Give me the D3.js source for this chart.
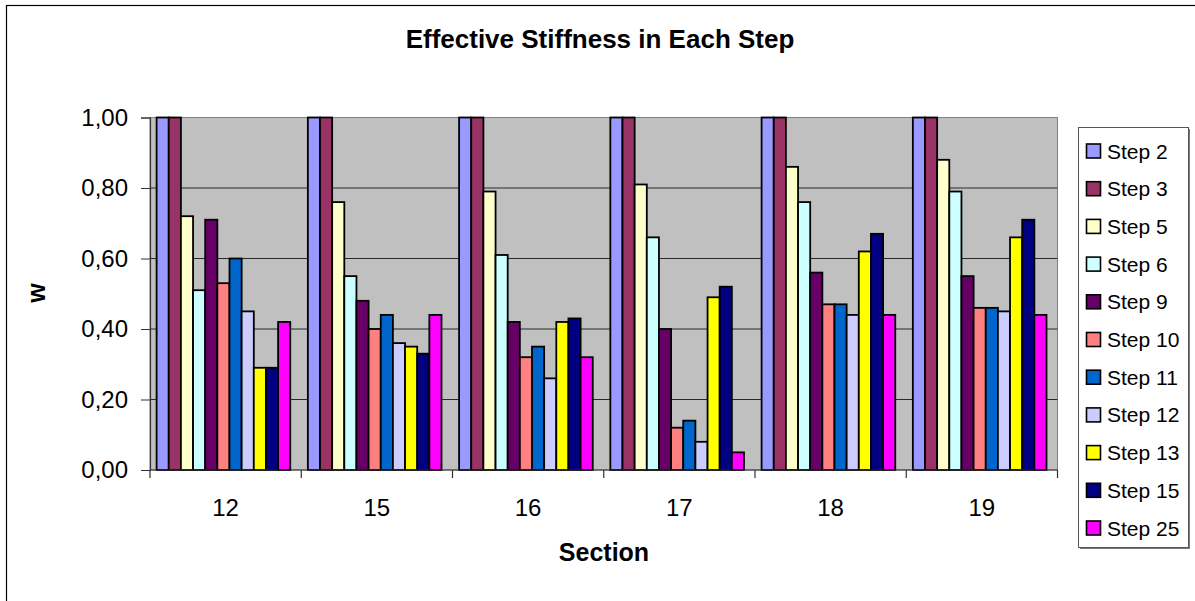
<!DOCTYPE html>
<html>
<head>
<meta charset="utf-8">
<script src="https://cdn.jsdelivr.net/npm/d3@7"></script>
<style>
  html, body { margin: 0; padding: 0; background: #fff; }
  svg { display: block; font-family: Arial, "Liberation Sans", sans-serif; }
</style>
</head>
<body>
<svg id="chart" width="1195" height="601"></svg>
<script>
// Sections on the x axis
const sections = ["12", "15", "16", "17", "18", "19"];

// Load steps (one series per step)
const steps = ["Step 2", "Step 3", "Step 5", "Step 6", "Step 9", "Step 10",
               "Step 11", "Step 12", "Step 13", "Step 15", "Step 25"];

// Effective stiffness ratio w for each step, listed by section
const step2  = [1.00, 1.00, 1.00, 1.00, 1.00, 1.00];
const step3  = [1.00, 1.00, 1.00, 1.00, 1.00, 1.00];
const step5  = [0.72, 0.76, 0.79, 0.81, 0.86, 0.88];
const step6  = [0.51, 0.55, 0.61, 0.66, 0.76, 0.79];
const step9  = [0.71, 0.48, 0.42, 0.40, 0.56, 0.55];
const step10 = [0.53, 0.40, 0.32, 0.12, 0.47, 0.46];
const step11 = [0.60, 0.44, 0.35, 0.14, 0.47, 0.46];
const step12 = [0.45, 0.36, 0.26, 0.08, 0.44, 0.45];
const step13 = [0.29, 0.35, 0.42, 0.49, 0.62, 0.66];
const step15 = [0.29, 0.33, 0.43, 0.52, 0.67, 0.71];
const step25 = [0.42, 0.44, 0.32, 0.05, 0.44, 0.44];

const seriesValues = [step2, step3, step5, step6, step9, step10,
                      step11, step12, step13, step15, step25];

const yTicks = [0, 0.2, 0.4, 0.6, 0.8, 1.0];

const colors = ["#9999FF", "#993366", "#FFFFCC", "#CCFFFF", "#660066", "#FF8080",
                "#0066CC", "#CCCCFF", "#FFFF00", "#000080", "#FF00FF"];

// Layout
const plot = { left: 150, top: 117.5, right: 1057.5, bottom: 470 };
const svg = d3.select("#chart");

// Chart frame (only its top and left edges fall inside the page)
svg.append("rect")
  .attr("x", 6.5).attr("y", 5.5)
  .attr("width", 1300).attr("height", 700)
  .attr("fill", "#fff").attr("stroke", "#000").attr("stroke-width", 1.2);

// Scales
const x0 = d3.scaleBand().domain(sections).range([plot.left, plot.right]).padding(0);
const bw = x0.bandwidth();
const x1 = d3.scaleBand().domain(steps).range([6.6, bw - 11]).padding(0);
const y = d3.scaleLinear().domain([0, 1]).range([plot.bottom, plot.top]);
const color = d3.scaleOrdinal().domain(steps).range(colors);

// Plot area background
svg.append("rect")
  .attr("x", plot.left).attr("y", plot.top)
  .attr("width", plot.right - plot.left).attr("height", plot.bottom - plot.top)
  .attr("fill", "#C0C0C0").attr("stroke", "#808080").attr("stroke-width", 1);

// Horizontal gridlines
svg.append("g")
  .selectAll("line")
  .data(yTicks.filter(d => d > 0 && d < 1))
  .join("line")
  .attr("x1", plot.left).attr("x2", plot.right)
  .attr("y1", d => y(d)).attr("y2", d => y(d))
  .attr("stroke", "#2a2a2a").attr("stroke-width", 1);

// Bars
const rows = steps.map((s, i) => ({ step: s, values: seriesValues[i] }));
const cells = [];
rows.forEach(r => r.values.forEach((v, j) => cells.push({ step: r.step, section: sections[j], value: v })));

svg.append("g")
  .selectAll("rect")
  .data(cells)
  .join("rect")
  .attr("x", d => x0(d.section) + x1(d.step))
  .attr("y", d => y(d.value))
  .attr("width", x1.bandwidth())
  .attr("height", d => y(0) - y(d.value))
  .attr("fill", d => color(d.step))
  .attr("stroke", "#000")
  .attr("stroke-width", 1.8);

// Y axis
const yAxis = d3.axisLeft(y)
  .tickValues(yTicks)
  .tickSize(9)
  .tickPadding(13)
  .tickFormat(d => d3.format(".2f")(d).replace(".", ","));
const gy = svg.append("g").attr("transform", `translate(${plot.left},0)`).call(yAxis);
gy.select(".domain").attr("stroke", "#333").attr("stroke-width", 1.2);
gy.selectAll(".tick line").attr("stroke", "#333");
gy.selectAll(".tick text")
  .attr("font-size", 24).attr("fill", "#000")
  .attr("font-family", "Arial, 'Liberation Sans', sans-serif");

// X axis: ticks at category boundaries, labels centred
const gx = svg.append("g").attr("transform", `translate(0,${plot.bottom})`);
gx.append("line")
  .attr("x1", plot.left).attr("x2", plot.right)
  .attr("stroke", "#333").attr("stroke-width", 1.2);
const boundaries = sections.map(s => x0(s)).concat([x0(sections[sections.length - 1]) + bw]);
gx.selectAll("line.tick")
  .data(boundaries)
  .join("line")
  .attr("class", "tick")
  .attr("x1", d => d).attr("x2", d => d)
  .attr("y1", 0).attr("y2", 8)
  .attr("stroke", "#333").attr("stroke-width", 1.2);
gx.selectAll("text")
  .data(sections)
  .join("text")
  .attr("x", d => x0(d) + bw / 2)
  .attr("y", 46)
  .attr("text-anchor", "middle")
  .attr("font-size", 24)
  .text(d => d);

// Title
svg.append("text")
  .attr("x", 600).attr("y", 48)
  .attr("text-anchor", "middle")
  .attr("font-size", 26).attr("font-weight", "bold")
  .text("Effective Stiffness in Each Step");

// Axis titles
svg.append("text")
  .attr("x", 604).attr("y", 561)
  .attr("text-anchor", "middle")
  .attr("font-size", 25).attr("font-weight", "bold")
  .text("Section");

svg.append("text")
  .attr("transform", "translate(45,293) rotate(-90)")
  .attr("text-anchor", "middle")
  .attr("font-size", 25).attr("font-weight", "bold")
  .text("w");

// Legend
const lg = svg.append("g");
lg.append("rect")
  .attr("x", 1080).attr("y", 129).attr("width", 110).attr("height", 420)
  .attr("fill", "#7a7a7a");
lg.append("rect")
  .attr("x", 1078.5).attr("y", 127.5).attr("width", 110).attr("height", 420)
  .attr("fill", "#fff").attr("stroke", "#555").attr("stroke-width", 1);

const ly = d3.scalePoint().domain(steps).range([151, 528]);
const items = lg.selectAll("g.item")
  .data(steps)
  .join("g")
  .attr("class", "item")
  .attr("transform", d => `translate(0,${ly(d)})`);
items.append("rect")
  .attr("x", 1086.5).attr("y", -7).attr("width", 14).attr("height", 14)
  .attr("fill", d => color(d))
  .attr("stroke", "#000").attr("stroke-width", 1.6);
items.append("text")
  .attr("x", 1107).attr("y", 7.5)
  .attr("font-size", 21)
  .text(d => d);
</script>
</body>
</html>
